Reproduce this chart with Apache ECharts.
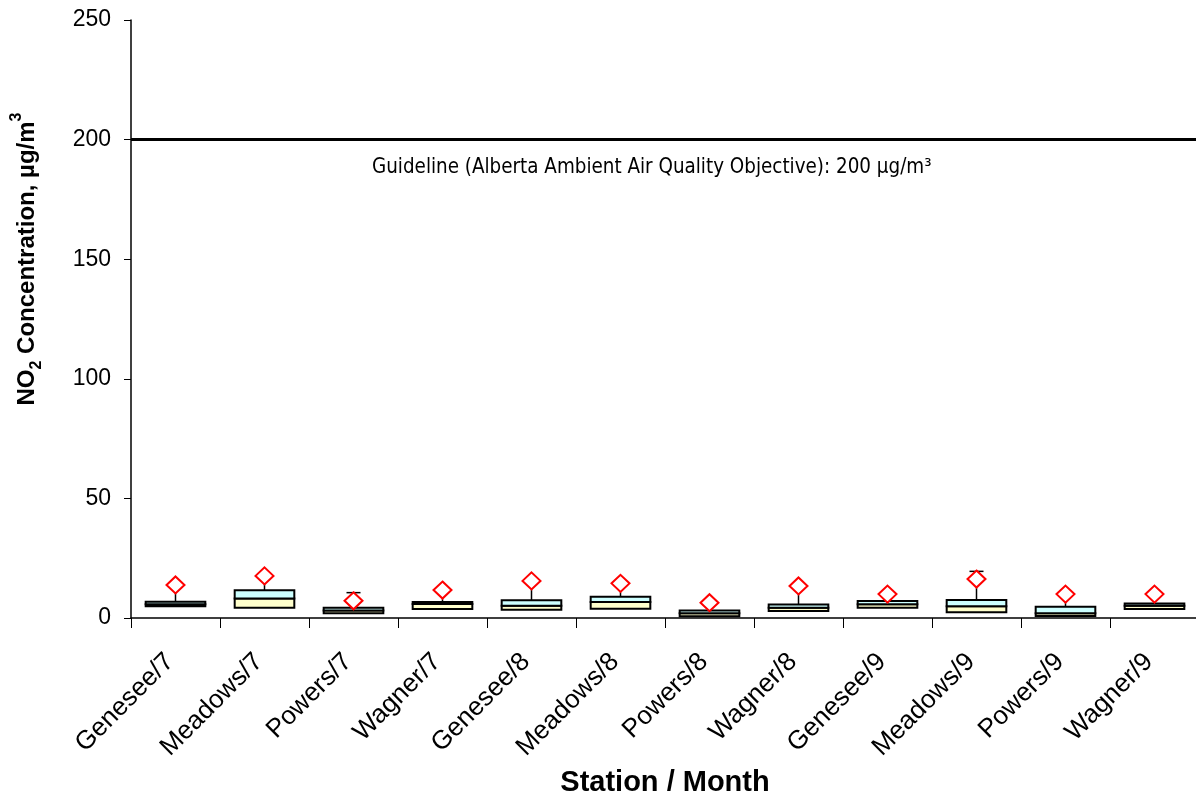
<!DOCTYPE html>
<html>
<head>
<meta charset="utf-8">
<title>NO2 Concentration by Station / Month</title>
<script src="https://cdn.jsdelivr.net/npm/echarts@6/dist/echarts.min.js"></script>
<style>
  html, body { margin: 0; padding: 0; background: #fff; }
  #main { width: 1196px; height: 802px; }
</style>
</head>
<body>
<div id="main"></div>
<script>
// stations by month
const categories = ["Genesee/7", "Meadows/7", "Powers/7", "Wagner/7",
  "Genesee/8", "Meadows/8", "Powers/8", "Wagner/8",
  "Genesee/9", "Meadows/9", "Powers/9", "Wagner/9"];

// box values (ug/m3)
const q1Values     = [4.9, 4.3, 2.0, 3.8, 3.5, 3.9, 0.7, 2.9, 4.3, 2.4, 0.8, 3.8];
const medianValues = [5.8, 8.2, 3.1, 5.9, 5.1, 6.7, 2.0, 4.3, 5.7, 4.9, 2.0, 5.1];
const q3Values     = [6.8, 11.6, 4.3, 6.7, 7.4, 8.9, 3.1, 5.6, 7.1, 7.5, 4.7, 6.1];
const whiskerTop   = [13.0, 17.0, 10.6, 11.0, 15.0, 14.0, 6.0, 13.0, 9.5, 19.5, 9.5, 9.5];
const diamondValues = [13.8, 17.6, 7.2, 11.7, 15.5, 14.5, 6.4, 13.4, 10.0, 16.3, 10.0, 10.0];

const yTicks = [0, 50, 100, 150, 200, 250];
const guideline = 200;
const guidelineLabel = "Guideline (Alberta Ambient Air Quality Objective): 200 µg/m³";

const font = "'Liberation Sans', Arial, sans-serif";

var boxData = categories.map(function (c, i) {
  return [i, q1Values[i], medianValues[i], q3Values[i], whiskerTop[i]];
});

function renderBox(params, api) {
  var x = api.value(0);
  var pQ1 = api.coord([x, api.value(1)]);
  var pMed = api.coord([x, api.value(2)]);
  var pQ3 = api.coord([x, api.value(3)]);
  var pTop = api.coord([x, api.value(4)]);
  var bw = api.size([1, 0])[0] * 0.67;
  var left = pQ1[0] - bw / 2;
  var stroke = { stroke: "#000", lineWidth: 2 };
  return {
    type: "group",
    children: [
      {
        type: "line",
        shape: { x1: pQ3[0], y1: pQ3[1], x2: pTop[0], y2: pTop[1] },
        style: { stroke: "#000", lineWidth: 1.5 }
      },
      {
        type: "line",
        shape: { x1: pTop[0] - 7, y1: pTop[1], x2: pTop[0] + 7, y2: pTop[1] },
        style: { stroke: "#000", lineWidth: 1.5 }
      },
      {
        type: "rect",
        shape: { x: left, y: pMed[1], width: bw, height: pQ1[1] - pMed[1] },
        style: Object.assign({ fill: "#ffffcc" }, stroke)
      },
      {
        type: "rect",
        shape: { x: left, y: pQ3[1], width: bw, height: pMed[1] - pQ3[1] },
        style: Object.assign({ fill: "#ccffff" }, stroke)
      }
    ]
  };
}

var myChart = echarts.init(document.getElementById("main"));

var option = {
  backgroundColor: "#fff",
  animation: false,
  grid: { left: 131, top: 20, width: 1068, height: 598, containLabel: false, outerBoundsMode: "none" },
  xAxis: {
    type: "category",
    data: categories,
    boundaryGap: true,
    name: "Station / Month",
    nameLocation: "middle",
    nameGap: 150,
    nameTextStyle: { fontSize: 29, fontWeight: "bold", color: "#000", fontFamily: font },
    axisLine: { lineStyle: { color: "#000", width: 1.5 } },
    axisTick: { show: true, length: 10, lineStyle: { color: "#000", width: 1 } },
    axisLabel: { rotate: 45, interval: 0, fontSize: 26, color: "#000", fontFamily: font, margin: 34, padding: [0, 8, 0, 0] },
    splitLine: { show: false }
  },
  yAxis: {
    type: "value",
    min: yTicks[0],
    max: yTicks[yTicks.length - 1],
    interval: 50,
    name: "NO{sub|2} Concentration, µg/m{sup|3}",
    nameLocation: "middle",
    nameGap: 86,
    nameTextStyle: {
      fontSize: 24, fontWeight: "bold", color: "#000", fontFamily: font,
      lineHeight: 36, padding: [0, 0, 0, 120],
      rich: {
        sub: { fontSize: 16, fontWeight: "bold", color: "#000", fontFamily: font, verticalAlign: "bottom", lineHeight: 16 },
        sup: { fontSize: 16, fontWeight: "bold", color: "#000", fontFamily: font, verticalAlign: "top", lineHeight: 16 }
      }
    },
    axisLine: { show: true, lineStyle: { color: "#000", width: 1.5 } },
    axisTick: { show: true, length: 7, lineStyle: { color: "#000", width: 1 } },
    axisLabel: { fontSize: 23, color: "#000", fontFamily: font, margin: 20 },
    splitLine: { show: false }
  },
  graphic: [
    {
      type: "text",
      left: 372,
      top: 158,
      style: {
        text: guidelineLabel,
        fontSize: 20.4,
        fontFamily: "'Liberation Sans Narrow', 'Arial Narrow', 'DejaVu Sans Condensed', sans-serif",
        fill: "#000"
      }
    }
  ],
  series: [
    {
      name: "box",
      type: "custom",
      renderItem: renderBox,
      data: boxData,
      z: 2,
      markLine: {
        silent: true,
        symbol: "none",
        label: { show: false },
        lineStyle: { color: "#000", width: 3, type: "solid" },
        data: [{ yAxis: guideline }]
      }
    },
    {
      name: "diamond",
      type: "scatter",
      data: diamondValues,
      symbol: "diamond",
      symbolSize: [18, 17],
      z: 5,
      itemStyle: { color: "#fff", borderColor: "#ff0000", borderWidth: 2, opacity: 1 }
    }
  ]
};

myChart.setOption(option);
</script>
</body>
</html>
